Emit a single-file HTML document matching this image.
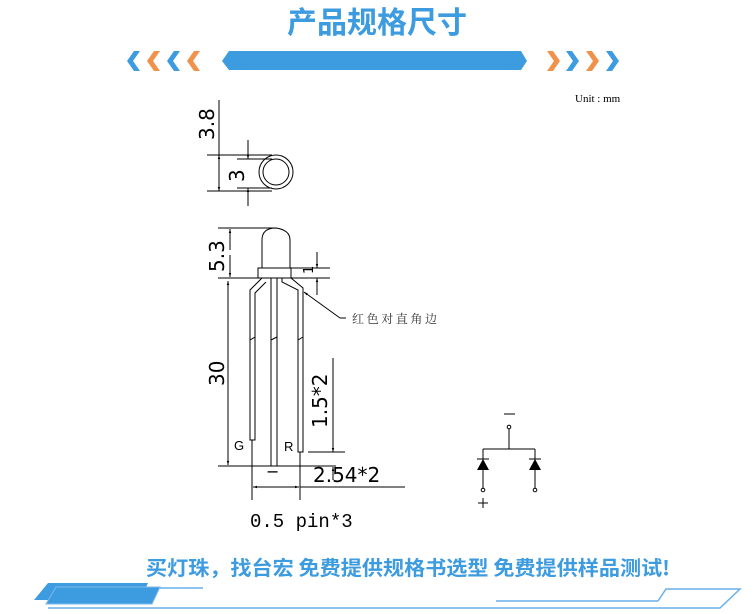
<!DOCTYPE html>
<html><head><meta charset="utf-8"><style>
html,body{margin:0;padding:0;background:#fff;}
body{width:755px;height:614px;overflow:hidden;position:relative;}
</style></head><body>
<svg width="755" height="614" viewBox="0 0 755 614" xmlns="http://www.w3.org/2000/svg" style="position:absolute;left:0;top:0">
<defs>
<marker id="a" viewBox="0 0 10 10" refX="10" refY="5" markerWidth="4" markerHeight="6" orient="auto-start-reverse"><path d="M0,2 L10,5 L0,8 z" fill="#000"/></marker>
</defs>
<!-- header -->
<text x="377" y="33" text-anchor="middle" font-family="'Noto Sans CJK SC',sans-serif" font-weight="bold" font-size="30" fill="#3d9be0">产品规格尺寸</text>
<path d="M222,61 L229,51 L521,51 L527,61 L521,70 L229,70 Z" fill="#3d9be0"/>
<g>
<path d="M134,51 L127,61 L134,71 L140,71 L133,61 L140,51Z" fill="#3d9be0"/>
<path d="M154,51 L147,61 L154,71 L160,71 L153,61 L160,51Z" fill="#f0924a"/>
<path d="M174,51 L167,61 L174,71 L180,71 L173,61 L180,51Z" fill="#3d9be0"/>
<path d="M194,51 L187,61 L194,71 L200,71 L193,61 L200,51Z" fill="#f0924a"/>
<path d="M547,51 L554,61 L547,71 L553,71 L560,61 L553,51Z" fill="#f0924a"/>
<path d="M566,51 L573,61 L566,71 L572,71 L579,61 L572,51Z" fill="#3d9be0"/>
<path d="M586,51 L593,61 L586,71 L592,71 L599,61 L592,51Z" fill="#f0924a"/>
<path d="M606,51 L613,61 L606,71 L612,71 L619,61 L612,51Z" fill="#3d9be0"/>
</g>
<text x="575" y="102" font-family="'Liberation Serif',serif" font-size="11">Unit : mm</text>

<g stroke="#000" stroke-width="1" fill="none">
<line x1="219" y1="100" x2="219" y2="191" marker-end="url(#a)"/>
<line x1="219" y1="191" x2="219" y2="155" marker-end="url(#a)"/>
<line x1="207" y1="155" x2="272" y2="155"/><line x1="207" y1="191" x2="272" y2="191"/>
<line x1="248" y1="140" x2="248" y2="159" marker-end="url(#a)"/>
<line x1="248" y1="206" x2="248" y2="188" marker-end="url(#a)"/>
<line x1="237" y1="159" x2="272" y2="159"/><line x1="237" y1="188" x2="272" y2="188"/>
<circle cx="276" cy="172" r="17"/><circle cx="276" cy="172" r="13"/>
<line x1="218" y1="228" x2="276" y2="228"/><line x1="218" y1="278" x2="258" y2="278"/>
<line x1="230" y1="250" x2="230" y2="229" marker-end="url(#a)"/>
<line x1="230" y1="255" x2="230" y2="277" marker-end="url(#a)"/>
<path d="M262,268 L262,240 Q262,228 276,228 Q290,230 290,240 L290,268"/>
<rect x="258" y="268" width="33" height="10"/>
<line x1="290" y1="268" x2="330" y2="268"/><line x1="290" y1="278" x2="330" y2="278"/>
<line x1="317" y1="252" x2="317" y2="268" marker-end="url(#a)"/>
<line x1="317" y1="295" x2="317" y2="278" marker-end="url(#a)"/>
<path d="M262,278 L250,290 L250,440 L255,440 L255,293 L266,282"/>
<path d="M271,278 L271,466 L277,466 L277,278"/>
<path d="M282,278 L282,282 L298,290 L298,452 L303,452 L303,288 L291,278"/>
<line x1="250" y1="340" x2="255" y2="337"/><line x1="271" y1="340" x2="277" y2="337"/><line x1="298" y1="340" x2="303" y2="337"/>
<line x1="228" y1="380" x2="228" y2="281" marker-end="url(#a)"/>
<line x1="228" y1="380" x2="228" y2="465" marker-end="url(#a)"/>
<line x1="218" y1="466" x2="336" y2="466"/>
<line x1="333" y1="358" x2="333" y2="452"/>
<line x1="333" y1="440" x2="333" y2="452" marker-end="url(#a)"/>
<line x1="333" y1="480" x2="333" y2="467" marker-end="url(#a)"/>
<line x1="308" y1="452" x2="345" y2="452"/>
<line x1="252" y1="440" x2="252" y2="500"/><line x1="300" y1="452" x2="300" y2="500"/>
<line x1="276" y1="487" x2="253" y2="487" marker-end="url(#a)"/>
<line x1="276" y1="487" x2="299" y2="487" marker-end="url(#a)"/>
<line x1="300" y1="487" x2="405" y2="487"/>
<line x1="346" y1="318" x2="340" y2="318"/>
<line x1="340" y1="318" x2="304" y2="292" marker-end="url(#a)"/>
</g>
<g font-family="'DejaVu Sans',sans-serif" font-size="20" fill="#000">
<text transform="translate(214,140) rotate(-90)">3.8</text>
<text transform="translate(244,182) rotate(-90)">3</text>
<text transform="translate(224,272) rotate(-90)">5.3</text>
<text transform="translate(224,386) rotate(-90)">30</text>
<text transform="translate(327,428) rotate(-90)">1.5*2</text>
<text transform="translate(313,274) rotate(-90)" font-size="13">1</text>
<text x="313" y="482">2.54*2</text>
<text x="266" y="477" font-size="16">−</text>
</g>
<text x="234" y="450" font-family="'Liberation Sans',sans-serif" font-size="13">G</text>
<text x="284" y="451" font-family="'Liberation Sans',sans-serif" font-size="13">R</text>
<text x="352" y="323" font-family="'Noto Serif CJK SC',serif" font-size="12" fill="#333" textLength="85">红色对直角边</text>
<text x="250" y="527" font-family="'Liberation Mono',monospace" font-size="19">0.5 pin*3</text>
<g stroke="#000" stroke-width="1" fill="none">
<line x1="504" y1="414" x2="515" y2="414"/>
<circle cx="509" cy="427" r="1.8"/>
<line x1="509" y1="429" x2="509" y2="449"/>
<line x1="483" y1="449" x2="535" y2="449"/>
<line x1="483" y1="449" x2="483" y2="488"/><line x1="535" y1="449" x2="535" y2="488"/>
<circle cx="483" cy="490" r="1.8"/><circle cx="535" cy="490" r="1.8"/>
<line x1="477" y1="459" x2="489" y2="459"/><line x1="529" y1="459" x2="541" y2="459"/>
<line x1="478" y1="503" x2="488" y2="503"/><line x1="483" y1="498" x2="483" y2="508"/>
</g>
<path d="M477,470 L489,470 L483,459Z M529,470 L541,470 L535,459Z" fill="#000"/>
<text x="146" y="575" font-family="'Noto Sans CJK SC',sans-serif" font-weight="bold" font-size="20" fill="#3d9be0" textLength="524" lengthAdjust="spacingAndGlyphs">买灯珠，找台宏 免费提供规格书选型 免费提供样品测试!</text>
<path d="M48,583 L148,583 L140,600 L34,600 Z" fill="#3d9be0"/>
<path d="M56,587 L160,587 L152,604 L46,604 Z" fill="#3d9be0" stroke="#7fb8ea"/>
<line x1="160" y1="588" x2="203" y2="588" stroke="#6aaee8" stroke-width="1.5"/>
<line x1="496" y1="601" x2="658" y2="601" stroke="#6aaee8" stroke-width="1.5"/>
<path d="M48,608 L720,608 L740,589 L666,589 L658,601" fill="none" stroke="#6aaee8" stroke-width="1.5"/>
</svg>
</body></html>
